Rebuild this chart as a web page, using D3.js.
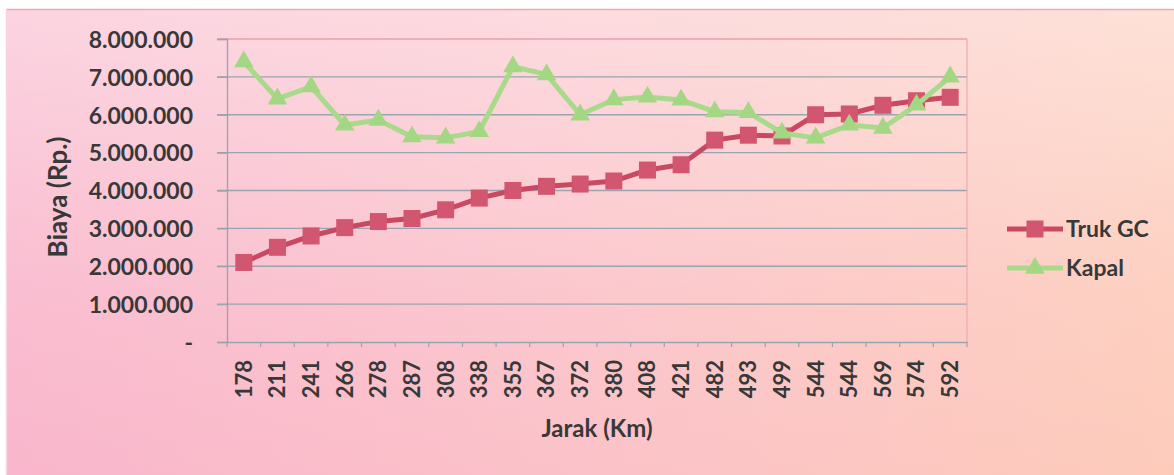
<!DOCTYPE html>
<html>
<head>
<meta charset="utf-8">
<script src="https://cdn.jsdelivr.net/npm/d3@7"></script>
<style>
  html, body { margin: 0; padding: 0; background: #ffffff; }
  svg { display: block; }
  text { font-family: Lato, "Open Sans", sans-serif; font-weight: 700; fill: #383838; }
</style>
</head>
<body>
<svg id="chart" width="1174" height="475"></svg>
<script>
// Distance categories (km) along the x axis
const jarak = ["178","211","241","266","278","287","308","338","355","367","372",
               "380","408","421","482","493","499","544","544","569","574","592"];

// Cost per trip (Rp.) for each mode
const trukGC = [2100000, 2500000, 2800000, 3020000, 3180000, 3260000, 3490000, 3800000,
                4000000, 4110000, 4170000, 4250000, 4540000, 4680000, 5330000, 5460000,
                5440000, 6000000, 6020000, 6250000, 6370000, 6460000];
const kapal  = [7400000, 6420000, 6740000, 5730000, 5860000, 5420000, 5390000, 5560000,
                7270000, 7060000, 6000000, 6400000, 6470000, 6390000, 6080000, 6060000,
                5520000, 5390000, 5730000, 5650000, 6260000, 7000000];

// Value axis ticks
const yTicks = [0, 1000000, 2000000, 3000000, 4000000, 5000000, 6000000, 7000000, 8000000];

const svg = d3.select("#chart");
const defs = svg.append("defs");

// Chart-area background: pink on the left fading to peach, lighter towards the top
const gH = defs.append("linearGradient").attr("id", "bgH")
  .attr("x1", "0").attr("y1", "0").attr("x2", "1").attr("y2", "0");
gH.append("stop").attr("offset", "0").attr("stop-color", "#f9b6cc");
gH.append("stop").attr("offset", "0.5").attr("stop-color", "#fbc2c8");
gH.append("stop").attr("offset", "1").attr("stop-color", "#fdcbba");
const gV = defs.append("linearGradient").attr("id", "bgV")
  .attr("x1", "0").attr("y1", "0").attr("x2", "0").attr("y2", "1");
gV.append("stop").attr("offset", "0").attr("stop-color", "#ffffff").attr("stop-opacity", 0.42);
gV.append("stop").attr("offset", "0.6").attr("stop-color", "#ffffff").attr("stop-opacity", 0.1);
gV.append("stop").attr("offset", "1").attr("stop-color", "#ffffff").attr("stop-opacity", 0);

svg.append("rect").attr("x", 6).attr("y", 9).attr("width", 1174).attr("height", 475)
  .attr("fill", "url(#bgH)");
svg.append("rect").attr("x", 6).attr("y", 9).attr("width", 1174).attr("height", 475)
  .attr("fill", "url(#bgV)");
svg.append("line").attr("x1", 6).attr("x2", 1174).attr("y1", 9.5).attr("y2", 9.5)
  .attr("stroke", "#f2a6b8").attr("stroke-width", 1.5);
svg.append("line").attr("x1", 6.5).attr("x2", 6.5).attr("y1", 9).attr("y2", 475)
  .attr("stroke", "#f7d3e3").attr("stroke-width", 1.5);

// Plot area
const plot = { left: 227, right: 967, top: 39, bottom: 342 };

const x = d3.scaleBand()
  .domain(d3.range(jarak.length))
  .range([plot.left, plot.right]);
const y = d3.scaleLinear()
  .domain([0, 8000000])
  .range([plot.bottom, plot.top]);

// Horizontal gridlines
svg.append("g").selectAll("line").data(yTicks.slice(1)).join("line")
  .attr("x1", plot.left - 10).attr("x2", plot.right)
  .attr("y1", d => y(d)).attr("y2", d => y(d))
  .attr("stroke", d => d === 8000000 ? "#e8a0a8" : "#9aa4ae")
  .attr("stroke-width", 1.3);

// Plot-area right border
svg.append("line").attr("x1", plot.right).attr("x2", plot.right)
  .attr("y1", plot.top).attr("y2", plot.bottom)
  .attr("stroke", "#eeaab0").attr("stroke-width", 1.2);

// Y axis
const fmt = v => v === 0 ? "-" : d3.format(",")(v).replace(/,/g, ".");
const yAxis = svg.append("g")
  .attr("transform", `translate(${plot.left},0)`)
  .call(d3.axisLeft(y).tickValues(yTicks).tickSize(10).tickPadding(24).tickFormat(fmt));
yAxis.select(".domain").attr("stroke", "#9aa4ae").attr("stroke-width", 1.3);
yAxis.selectAll(".tick line").attr("stroke", "#9aa4ae").attr("stroke-width", 1.3);
yAxis.selectAll(".tick text")
  .style("font-size", "23px").style("font-family", "Lato, sans-serif")
  .style("font-weight", 700).attr("fill", "#383838")
  .attr("dy", "0.36em");

// X axis
const xAxis = svg.append("g")
  .attr("transform", `translate(0,${plot.bottom})`)
  .call(d3.axisBottom(x).tickSizeOuter(0).tickSize(0).tickFormat(i => jarak[i]));
xAxis.select(".domain").attr("stroke", "#9aa4ae").attr("stroke-width", 1.3);
xAxis.selectAll(".tick text")
  .style("font-size", "22px").style("font-family", "Lato, sans-serif")
  .style("font-weight", 700).attr("fill", "#383838")
  .attr("text-anchor", "end")
  .attr("transform", "translate(0,18) rotate(-90)")
  .attr("x", 0).attr("y", 0).attr("dy", "0.36em");
// Category boundary ticks
svg.append("g").selectAll("line").data(d3.range(jarak.length + 1)).join("line")
  .attr("x1", i => plot.left + i * x.step()).attr("x2", i => plot.left + i * x.step())
  .attr("y1", plot.bottom).attr("y2", plot.bottom + 5)
  .attr("stroke", "#9aa4ae").attr("stroke-width", 1.2);

// Axis titles
svg.append("text").attr("x", 597).attr("y", 437)
  .attr("text-anchor", "middle").style("font-size", "24px").text("Jarak (Km)");
svg.append("text")
  .attr("transform", "translate(67,197) rotate(-90)")
  .attr("text-anchor", "middle").style("font-size", "26px").text("Biaya (Rp.)");

// Series
const cx = i => x(i) + x.bandwidth() / 2;
const red = "#c94862", redFill = "#d2566f";
const green = "#a9d98a", greenFill = "#a4d784";

const line = d3.line().x((d, i) => cx(i)).y(d => y(d));

svg.append("path").datum(trukGC).attr("d", line)
  .attr("fill", "none").attr("stroke", red).attr("stroke-width", 5);
svg.append("g").selectAll("rect").data(trukGC).join("rect")
  .attr("x", (d, i) => cx(i) - 8.5).attr("y", d => y(d) - 8.5)
  .attr("width", 17).attr("height", 17).attr("fill", redFill);

const tri = d3.symbol().type(d3.symbolTriangle).size(165);
svg.append("path").datum(kapal).attr("d", line)
  .attr("fill", "none").attr("stroke", green).attr("stroke-width", 5);
svg.append("g").selectAll("path").data(kapal).join("path")
  .attr("d", tri)
  .attr("transform", (d, i) => `translate(${cx(i)},${y(d)})`)
  .attr("fill", greenFill);

// Legend
const legend = [
  { name: "Truk GC", color: red, fill: redFill, shape: "square", y: 229 },
  { name: "Kapal", color: green, fill: greenFill, shape: "triangle", y: 268 }
];
const lg = svg.append("g").selectAll("g").data(legend).join("g")
  .attr("transform", d => `translate(1007,${d.y})`);
lg.append("line").attr("x1", 0).attr("x2", 56).attr("y1", 0).attr("y2", 0)
  .attr("stroke", d => d.color).attr("stroke-width", 5);
lg.filter(d => d.shape === "square").append("rect")
  .attr("x", 19.5).attr("y", -8.5).attr("width", 17).attr("height", 17)
  .attr("fill", d => d.fill);
lg.filter(d => d.shape === "triangle").append("path")
  .attr("d", tri).attr("transform", "translate(28,0)").attr("fill", d => d.fill);
lg.append("text").attr("x", 59).attr("y", 0).attr("dy", "0.36em")
  .style("font-size", "23px").text(d => d.name);
</script>
</body>
</html>
